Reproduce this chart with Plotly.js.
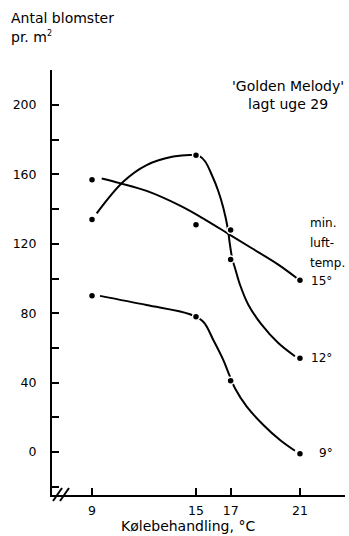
<!DOCTYPE html>
<html>
<head>
<meta charset="utf-8">
<script src="https://cdn.plot.ly/plotly-3.0.1.min.js"></script>
<style>html,body{margin:0;padding:0;background:#fff;}#chart{width:349px;height:536px;}</style>
</head>
<body>
<div id="chart"></div>
<script>
// Treatment temperatures (x) and measured points
const coolTemps = [9, 15, 17, 21];
const pts15 = [157, 131, 128, 99];
const pts12 = [134, 171, 111, 54];
const pts9  = [90, 78, 41, -1];

// Hand-drawn fitted curves
const curve15X = [9.56, 10.6, 12.15, 14.08, 15.52, 16.83, 18.2, 19.75, 20.81];
const curve15Y = [157.7, 155, 150.5, 142, 134, 126, 117.6, 108, 100.3];
const curve12X = [9.27, 10.8, 12.15, 13.69, 14.85, 15.2, 15.52, 15.91, 16.29, 16.58, 16.83, 16.96, 17.1, 17.25, 17.54, 18.02, 18.79, 19.75, 20.71];
const curve12Y = [137.6, 155.8, 165.4, 170.3, 171.2, 170.5, 167.6, 159.8, 150.3, 140.6, 129.1, 119.5, 111, 106.1, 96.4, 84.9, 73.4, 62.8, 55.2];
const curve9X  = [9.46, 12.15, 14.65, 15.42, 16.0, 16.58, 16.92, 17.25, 17.93, 18.89, 19.85, 20.71];
const curve9Y  = [90, 84.7, 79.4, 75.1, 64.6, 53, 44.4, 36.7, 26.1, 15.6, 6.9, 0.7];

const yTicks = [0, 40, 80, 120, 160, 200];

const FONT = 'DejaVu Sans, Liberation Sans, Arial, sans-serif';
const lineStyle = {color: '#000', width: 2, shape: 'spline', smoothing: 1};
const markerStyle = {color: '#000', size: 7, line: {color: '#fff', width: 1.5}};

const traces = [
  {x: curve15X, y: curve15Y, mode: 'lines', line: lineStyle, hoverinfo: 'skip'},
  {x: curve12X, y: curve12Y, mode: 'lines', line: lineStyle, hoverinfo: 'skip'},
  {x: curve9X,  y: curve9Y,  mode: 'lines', line: lineStyle, hoverinfo: 'skip'},
  {x: coolTemps, y: pts15, mode: 'markers', marker: markerStyle},
  {x: coolTemps, y: pts12, mode: 'markers', marker: markerStyle},
  {x: coolTemps, y: pts9,  mode: 'markers', marker: markerStyle}
];

// pixel -> paper helpers
const L = 52, T = 70, W = 293, H = 425;
const px = v => (v - L) / W;
const py = v => (T + H - v) / H;

function ann(text, x, y, xanchor, size, extra) {
  return Object.assign({
    text: text, xref: 'paper', yref: 'paper', x: px(x), y: py(y),
    xanchor: xanchor, yanchor: 'middle', showarrow: false,
    font: {family: FONT, size: size, color: '#000'}
  }, extra || {});
}

const layout = {
  width: 349, height: 536,
  margin: {l: L, r: 4, t: T, b: 41, pad: 0},
  paper_bgcolor: '#fff', plot_bgcolor: '#fff',
  showlegend: false,
  xaxis: {
    range: [6.69, 23.6],
    tickvals: coolTemps, ticktext: coolTemps.map(String),
    ticks: 'inside', ticklen: 7, tickwidth: 2, tickcolor: '#000',
    showline: true, linewidth: 2, linecolor: '#000',
    showgrid: false, zeroline: false,
    tickfont: {family: FONT, size: 12.5, color: '#000'},
    ticklabelstandoff: 3
  },
  yaxis: {
    range: [-24.8, 220.2],
    tickvals: yTicks, ticktext: yTicks.map(String),
    ticks: 'inside', ticklen: 7, tickwidth: 2, tickcolor: '#000',
    minor: {tick0: 0, dtick: 20, ticks: 'inside', ticklen: 7, tickwidth: 2, tickcolor: '#000'},
    showline: true, linewidth: 2, linecolor: '#000',
    showgrid: false, zeroline: false,
    tickfont: {family: FONT, size: 12.5, color: '#000'},
    ticklabelstandoff: 11
  },
  shapes: [
    {type: 'line', xref: 'paper', yref: 'paper', x0: px(53), y0: py(501), x1: px(62), y1: py(488), line: {color: '#000', width: 2}},
    {type: 'line', xref: 'paper', yref: 'paper', x0: px(60), y0: py(501), x1: px(69), y1: py(488), line: {color: '#000', width: 2}}
  ],
  annotations: [
    ann('Antal blomster', 9, 18, 'left', 14),
    ann('pr. m<sup><span style="font-size:8px">2</span></sup>', 9, 37, 'left', 14),
    ann("'Golden Melody'<br>lagt uge 29", 288, 95, 'center', 14, {align: 'center'}),
    ann('min.', 308, 223, 'left', 12),
    ann('luft-', 308, 243, 'left', 12),
    ann('temp.', 308, 263, 'left', 12),
    ann('15°', 309, 281, 'left', 12),
    ann('12°', 309, 358, 'left', 12),
    ann('9°', 317, 453, 'left', 12),
    ann('Kølebehandling, °C', 188, 526, 'center', 14)
  ]
};

Plotly.newPlot('chart', traces, layout, {staticPlot: true, displayModeBar: false});
</script>
</body>
</html>
